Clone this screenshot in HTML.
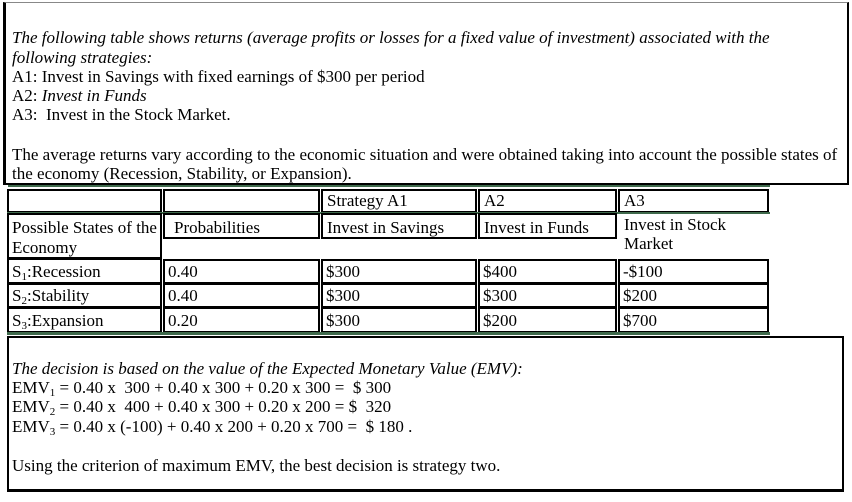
<!DOCTYPE html>
<html><head><meta charset="utf-8"><style>
body{margin:0;width:852px;height:502px;background:#fff;position:relative;overflow:hidden;font-family:"Liberation Serif","Times New Roman",serif;font-size:17px;color:#000}
.a{position:absolute;white-space:nowrap;line-height:18px}
.i{font-style:italic}
.b{position:absolute;background:#000}
.g{position:absolute;background:#3f6a4c}
.c{position:absolute;border:2px solid #000;box-sizing:border-box}
sub{font-size:11px;vertical-align:-3px;line-height:0}
</style></head><body>
<div style="position:absolute;left:3px;top:2px;width:846px;height:183px;border-top:1px solid #888;border-left:3px solid #000;border-right:2px solid #000;box-sizing:border-box"></div>
<div class="a i" style="left:12px;top:29px">The following table shows returns (average profits or losses for a fixed value of investment) associated with the</div>
<div class="a i" style="left:12px;top:49px">following strategies:</div>
<div class="a" style="left:12px;top:68px">A1: Invest in Savings with fixed earnings of $300 per period</div>
<div class="a" style="left:12px;top:87px">A2: <i>Invest in Funds</i></div>
<div class="a" style="left:12px;top:106px">A3:&nbsp; Invest in the Stock Market.</div>
<div class="a" style="left:12px;top:146px">The average returns vary according to the economic situation and were obtained taking into account the possible states of</div>
<div class="a" style="left:12px;top:165px">the economy (Recession, Stability, or Expansion).</div>
<div class="b" style="left:3px;top:183px;width:846px;height:2px"></div>
<div class="g" style="left:8px;top:185px;width:762px;height:2px"></div>

<div class="c" style="left:7px;top:189px;width:155px;height:24px"></div>
<div class="c" style="left:163px;top:189px;width:157px;height:24px"></div>
<div class="c" style="left:321px;top:189px;width:156px;height:24px"></div>
<div class="c" style="left:478px;top:189px;width:139px;height:24px"></div>
<div class="c" style="left:618px;top:189px;width:151px;height:24px"></div>
<div class="a" style="left:327px;top:192px">Strategy A1</div>
<div class="a" style="left:484px;top:192px">A2</div>
<div class="a" style="left:624px;top:192px">A3</div>
<div class="g" style="left:7px;top:212px;width:763px;height:2px"></div>
<div class="c" style="left:7px;top:213px;width:155px;height:46px;border-bottom:none"></div>
<div class="c" style="left:163px;top:213px;width:157px;height:26px"></div>
<div class="c" style="left:321px;top:213px;width:156px;height:26px"></div>
<div class="c" style="left:478px;top:213px;width:139px;height:26px"></div>
<div class="a" style="left:12px;top:219px">Possible States of the</div>
<div class="a" style="left:12px;top:239px">Economy</div>
<div class="a" style="left:174px;top:219px">Probabilities</div>
<div class="a" style="left:327px;top:219px">Invest in Savings</div>
<div class="a" style="left:484px;top:219px">Invest in Funds</div>
<div class="a" style="left:624px;top:216px">Invest in Stock</div>
<div class="a" style="left:624px;top:235px">Market</div>

<div class="b" style="left:7px;top:257px;width:155px;height:3px"></div>
<div class="c" style="left:7px;top:259px;width:155px;height:25px;border-top:none"></div>
<div class="c" style="left:163px;top:259px;width:157px;height:25px"></div>
<div class="c" style="left:321px;top:259px;width:156px;height:25px"></div>
<div class="c" style="left:478px;top:259px;width:139px;height:25px"></div>
<div class="c" style="left:618px;top:259px;width:151px;height:25px"></div>
<div class="c" style="left:7px;top:283px;width:155px;height:25px"></div>
<div class="c" style="left:163px;top:283px;width:157px;height:25px"></div>
<div class="c" style="left:321px;top:283px;width:156px;height:25px"></div>
<div class="c" style="left:478px;top:283px;width:139px;height:25px"></div>
<div class="c" style="left:618px;top:283px;width:151px;height:25px"></div>
<div class="c" style="left:7px;top:307px;width:155px;height:26px"></div>
<div class="c" style="left:163px;top:307px;width:157px;height:26px"></div>
<div class="c" style="left:321px;top:307px;width:156px;height:26px"></div>
<div class="c" style="left:478px;top:307px;width:139px;height:26px"></div>
<div class="c" style="left:618px;top:307px;width:151px;height:26px"></div>
<div class="g" style="left:7px;top:332px;width:763px;height:3px"></div>

<div class="a" style="left:12px;top:263px">S<sub>1</sub>:Recession</div>
<div class="a" style="left:12px;top:287px">S<sub>2</sub>:Stability</div>
<div class="a" style="left:12px;top:312px">S<sub>3</sub>:Expansion</div>
<div class="a" style="left:168px;top:263px">0.40</div>
<div class="a" style="left:168px;top:287px">0.40</div>
<div class="a" style="left:168px;top:312px">0.20</div>
<div class="a" style="left:326px;top:263px">$300</div>
<div class="a" style="left:326px;top:287px">$300</div>
<div class="a" style="left:326px;top:312px">$300</div>
<div class="a" style="left:483px;top:263px">$400</div>
<div class="a" style="left:483px;top:287px">$300</div>
<div class="a" style="left:483px;top:312px">$200</div>
<div class="a" style="left:623px;top:263px">-$100</div>
<div class="a" style="left:623px;top:287px">$200</div>
<div class="a" style="left:623px;top:312px">$700</div>

<div style="position:absolute;left:7px;top:336px;width:837px;height:156px;border:2px solid #000;border-bottom:3px solid #000;box-sizing:border-box"></div>
<div class="a i" style="left:12px;top:360px">The decision is based on the value of the Expected Monetary Value (EMV):</div>
<div class="a" style="left:12px;top:379px">EMV<sub>1</sub> = 0.40 x&nbsp; 300 + 0.40 x 300 + 0.20 x 300 =&nbsp; $ 300</div>
<div class="a" style="left:12px;top:398px">EMV<sub>2</sub> = 0.40 x&nbsp; 400 + 0.40 x 300 + 0.20 x 200 = $&nbsp; 320</div>
<div class="a" style="left:12px;top:418px">EMV<sub>3</sub> = 0.40 x (-100) + 0.40 x 200 + 0.20 x 700 =&nbsp; $ 180 .</div>
<div class="a" style="left:12px;top:457px">Using the criterion of maximum EMV, the best decision is strategy two.</div>
</body></html>
